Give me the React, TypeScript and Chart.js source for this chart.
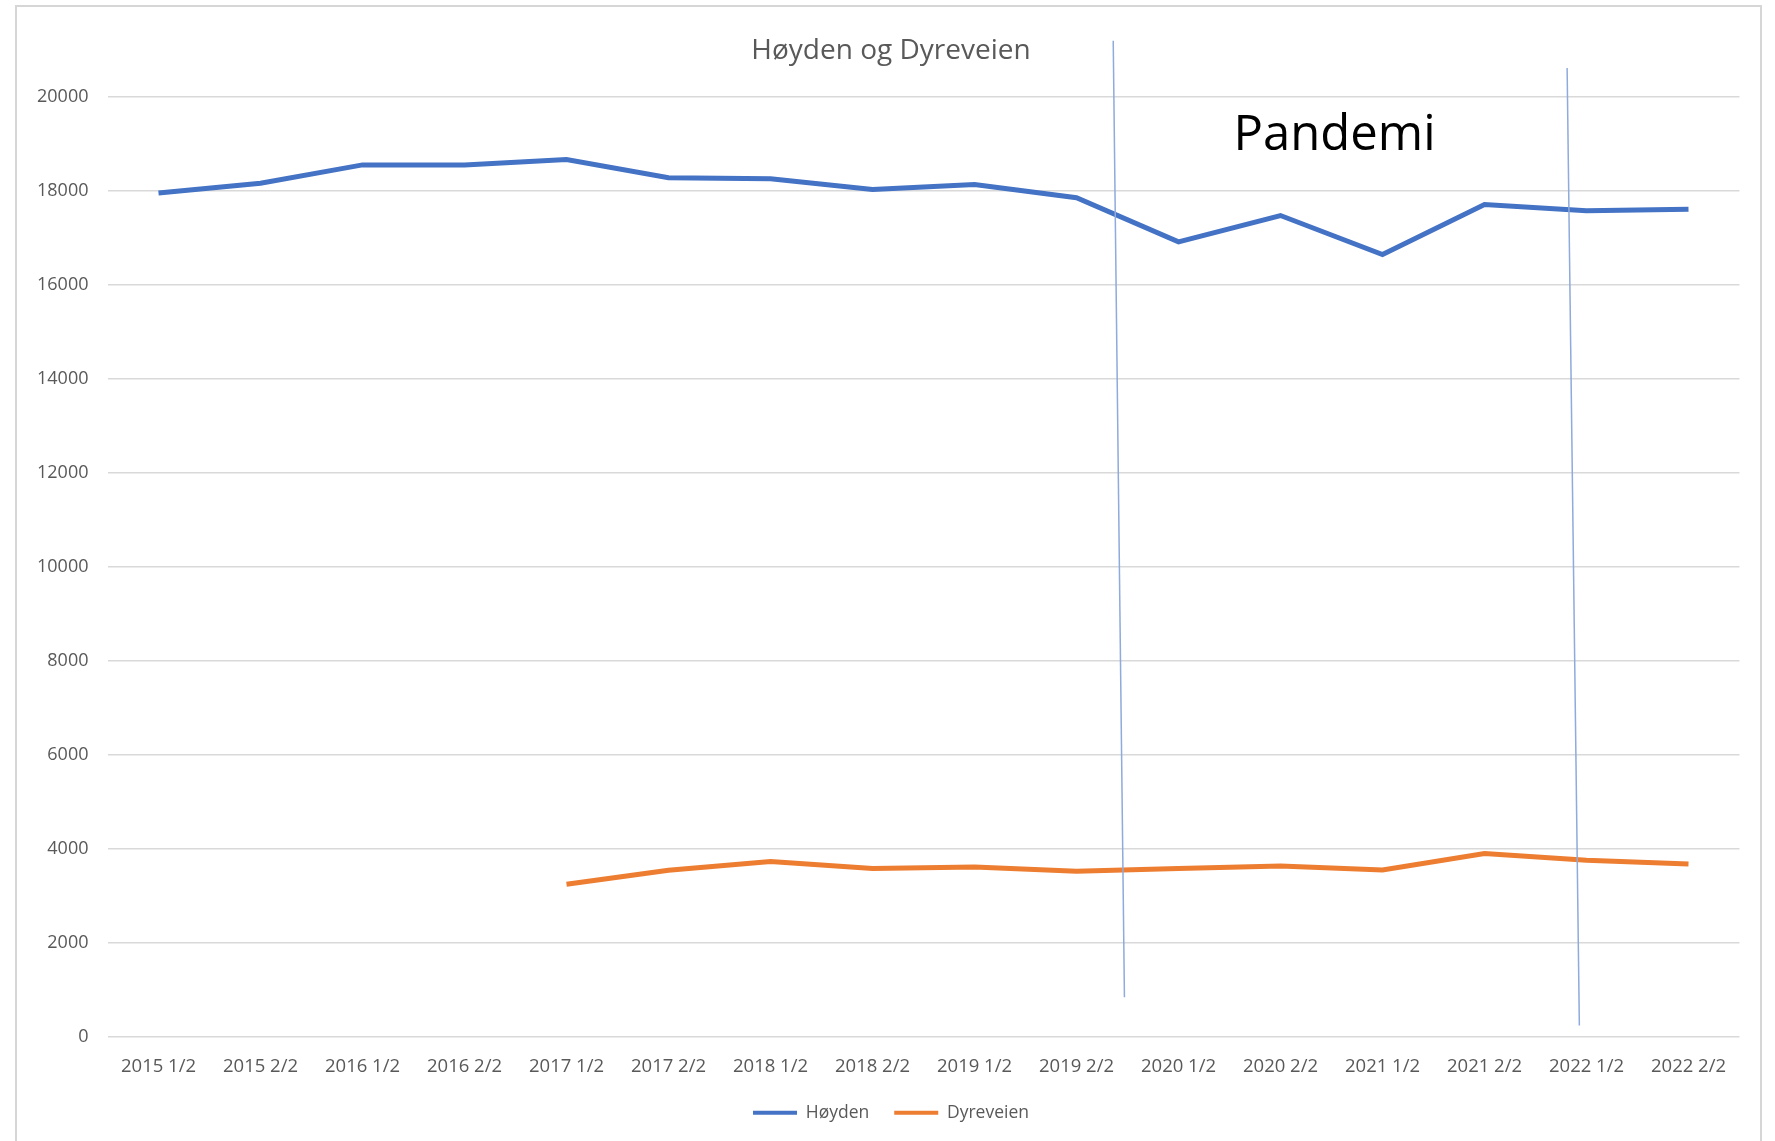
import React, { useEffect, useRef } from 'react';
import { Chart, registerables } from 'chart.js';

Chart.register(...registerables);

const categories = [
  '2015 1/2', '2015 2/2', '2016 1/2', '2016 2/2', '2017 1/2', '2017 2/2', '2018 1/2', '2018 2/2',
  '2019 1/2', '2019 2/2', '2020 1/2', '2020 2/2', '2021 1/2', '2021 2/2', '2022 1/2', '2022 2/2',
];

const hoyden = [17960, 18170, 18560, 18560, 18675, 18285, 18264, 18036, 18143, 17860, 16922, 17483, 16653, 17717, 17583, 17617];

const dyreveien = [null, null, null, null, 3255, 3550, 3736, 3589, 3623, 3532, 3589, 3645, 3560, 3906, 3766, 3687];

const yMin = 0;
const yMax = 20000;
const yStep = 2000;

// Hand-drawn "pandemic" marker lines, in category-index / value coordinates
const pandemicLineStarts = [{ x: 9.36, y: 21200 }, { x: 13.81, y: 20620 }];
const pandemicLineEnds = [{ x: 9.47, y: 850 }, { x: 13.93, y: 250 }];
const pandemicLabel = { text: 'Pandemi', x: 11.53, y: 18880 };

const FONT = 'Open Sans';
const GREY = '#595959';

const pandemiPlugin = {
  id: 'pandemi',
  afterDatasetsDraw(chart: any) {
    const { ctx, scales } = chart;
    const xs = scales.x;
    const ys = scales.y;
    ctx.save();
    ctx.strokeStyle = '#8faadc';
    ctx.lineWidth = 1.5;
    pandemicLineStarts.forEach((a, i) => {
      const b = pandemicLineEnds[i];
      ctx.beginPath();
      ctx.moveTo(xs.getPixelForValue(a.x), ys.getPixelForValue(a.y));
      ctx.lineTo(xs.getPixelForValue(b.x), ys.getPixelForValue(b.y));
      ctx.stroke();
    });
    ctx.font = `49px "${FONT}"`;
    ctx.fillStyle = '#000000';
    ctx.textAlign = 'center';
    ctx.textBaseline = 'alphabetic';
    ctx.fillText(pandemicLabel.text, xs.getPixelForValue(pandemicLabel.x), ys.getPixelForValue(pandemicLabel.y));
    ctx.restore();
  },
};

export default function App() {
  const canvasRef = useRef<HTMLCanvasElement | null>(null);

  useEffect(() => {
    if (!canvasRef.current) return;
    const chart = new Chart(canvasRef.current, {
      type: 'line',
      data: {
        labels: categories,
        datasets: [
          {
            label: 'Høyden',
            data: hoyden,
            borderColor: '#4472C4',
            backgroundColor: '#4472C4',
            borderWidth: 5,
            pointRadius: 0,
            tension: 0,
            yAxisID: 'y',
          },
          {
            label: 'Dyreveien',
            data: dyreveien as any,
            borderColor: '#ED7D31',
            backgroundColor: '#ED7D31',
            borderWidth: 5,
            pointRadius: 0,
            tension: 0,
            yAxisID: 'y',
          },
        ],
      },
      options: {
        responsive: false,
        animation: false,
        layout: { padding: { left: 0, right: 0, top: 0, bottom: 9.5 } },
        plugins: {
          title: {
            display: true,
            text: 'Høyden og Dyreveien',
            color: GREY,
            font: { family: FONT, size: 28, weight: 'normal' },
            padding: { top: 34.1, bottom: 29.5 },
          },
          legend: {
            position: 'bottom',
            labels: {
              boxWidth: 44,
              boxHeight: 4,
              color: GREY,
              font: { family: FONT, size: 17.5 },
              padding: 25,
              generateLabels: (c: any) =>
                (Chart.defaults.plugins.legend.labels.generateLabels as any)(c).map((l: any) => ({
                  ...l,
                  lineWidth: 0,
                  fillStyle: l.strokeStyle,
                })),
            },
          },
          tooltip: { enabled: false },
        },
        scales: {
          x: {
            offset: true,
            grid: { display: false, drawTicks: false },
            border: { display: false },
            ticks: {
              color: GREY,
              font: { family: FONT, size: 18.5 },
              padding: 18,
              maxRotation: 0,
              autoSkip: false,
            },
            afterFit: (s: any) => {
              s.height = 41.8;
            },
          },
          y: {
            position: 'left',
            min: yMin,
            max: yMax,
            grid: { color: '#d9d9d9', lineWidth: 1.5, drawTicks: false },
            border: { display: false },
            ticks: {
              stepSize: yStep,
              color: GREY,
              font: { family: FONT, size: 18 },
              padding: 19,
              callback: (v: any) => String(v),
            },
            afterFit: (s: any) => {
              s.width = 107.5;
            },
          },
          yRight: {
            position: 'right',
            display: true,
            min: yMin,
            max: yMax,
            grid: { display: false, drawTicks: false },
            border: { display: false },
            ticks: { display: false },
            afterFit: (s: any) => {
              s.width = 42.5;
            },
          },
        },
      },
      plugins: [pandemiPlugin],
    });
    return () => chart.destroy();
  }, []);

  return (
    <div
      style={{
        position: 'absolute',
        left: 0,
        top: 0,
        width: 1775,
        height: 1141,
        overflow: 'hidden',
        background: '#ffffff',
      }}
    >
      <canvas ref={canvasRef} width={1782} height={1141} style={{ display: 'block' }} />
      <div
        style={{
          position: 'absolute',
          left: 15,
          top: 5,
          width: 1747,
          height: 1300,
          border: '2px solid #d6d6d6',
          boxSizing: 'border-box',
          pointerEvents: 'none',
        }}
      />
    </div>
  );
}
